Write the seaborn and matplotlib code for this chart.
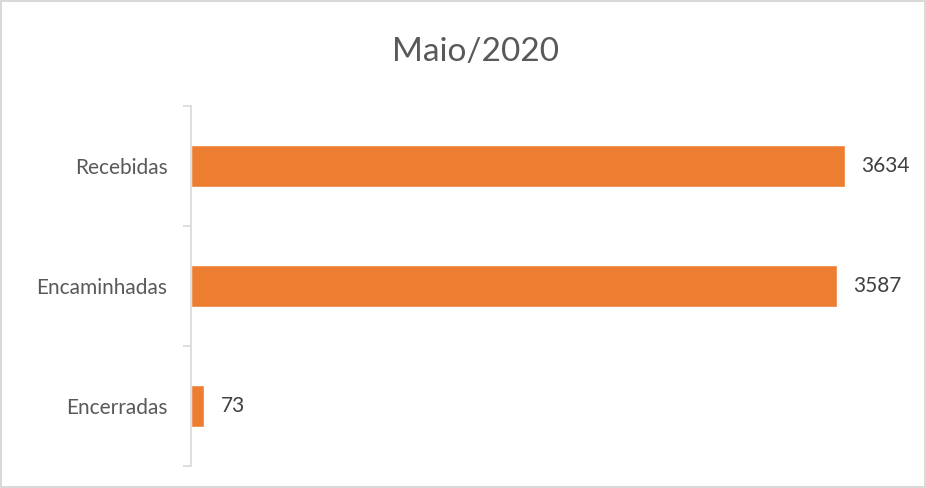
import numpy as np
import pandas as pd
import seaborn as sns
from matplotlib import pyplot as plt

categorias = ['Recebidas', 'Encaminhadas', 'Encerradas']
valores = [3634, 3587, 73]

sns.set_style('white')
plt.rcParams['font.family'] = ['Lato', 'DejaVu Sans']

df = pd.DataFrame({'categoria': categorias, 'valor': valores})

fig = plt.figure(figsize=(9.26, 4.88), dpi=100, edgecolor='#d9d9d9', linewidth=1.5)
ax = fig.add_axes([0.2063, 0.0451, 0.7777, 0.7377])

sns.barplot(data=df, x='valor', y='categoria', color='#ED7D31', width=0.35,
            saturation=1, ax=ax)

for i, v in enumerate(valores):
    ax.text(v + 90, i, str(v), va='center', ha='left', fontsize=15, color='#404040')

ax.set_xlim(0, 4000)
ax.set_ylim(2.5, -0.5)
ax.set_xlabel('')
ax.set_ylabel('')
ax.set_xticks([])

# separadores de categoria como no Excel
ax.set_yticks(np.arange(-0.5, len(categorias)), minor=True)
ax.tick_params(axis='y', which='major', left=False, labelsize=15, labelcolor='#595959', pad=13.5)
ax.tick_params(axis='y', which='minor', left=True, length=6, color='#d9d9d9', width=1.2)

for s in ['top', 'right', 'bottom']:
    ax.spines[s].set_visible(False)
ax.spines['left'].set_color('#d9d9d9')
ax.spines['left'].set_linewidth(1.2)

fig.text(0.513, 0.893, 'Maio/2020', ha='center', va='center', fontsize=24, color='#595959')

plt.savefig('out.png', dpi=100, edgecolor=fig.get_edgecolor())
